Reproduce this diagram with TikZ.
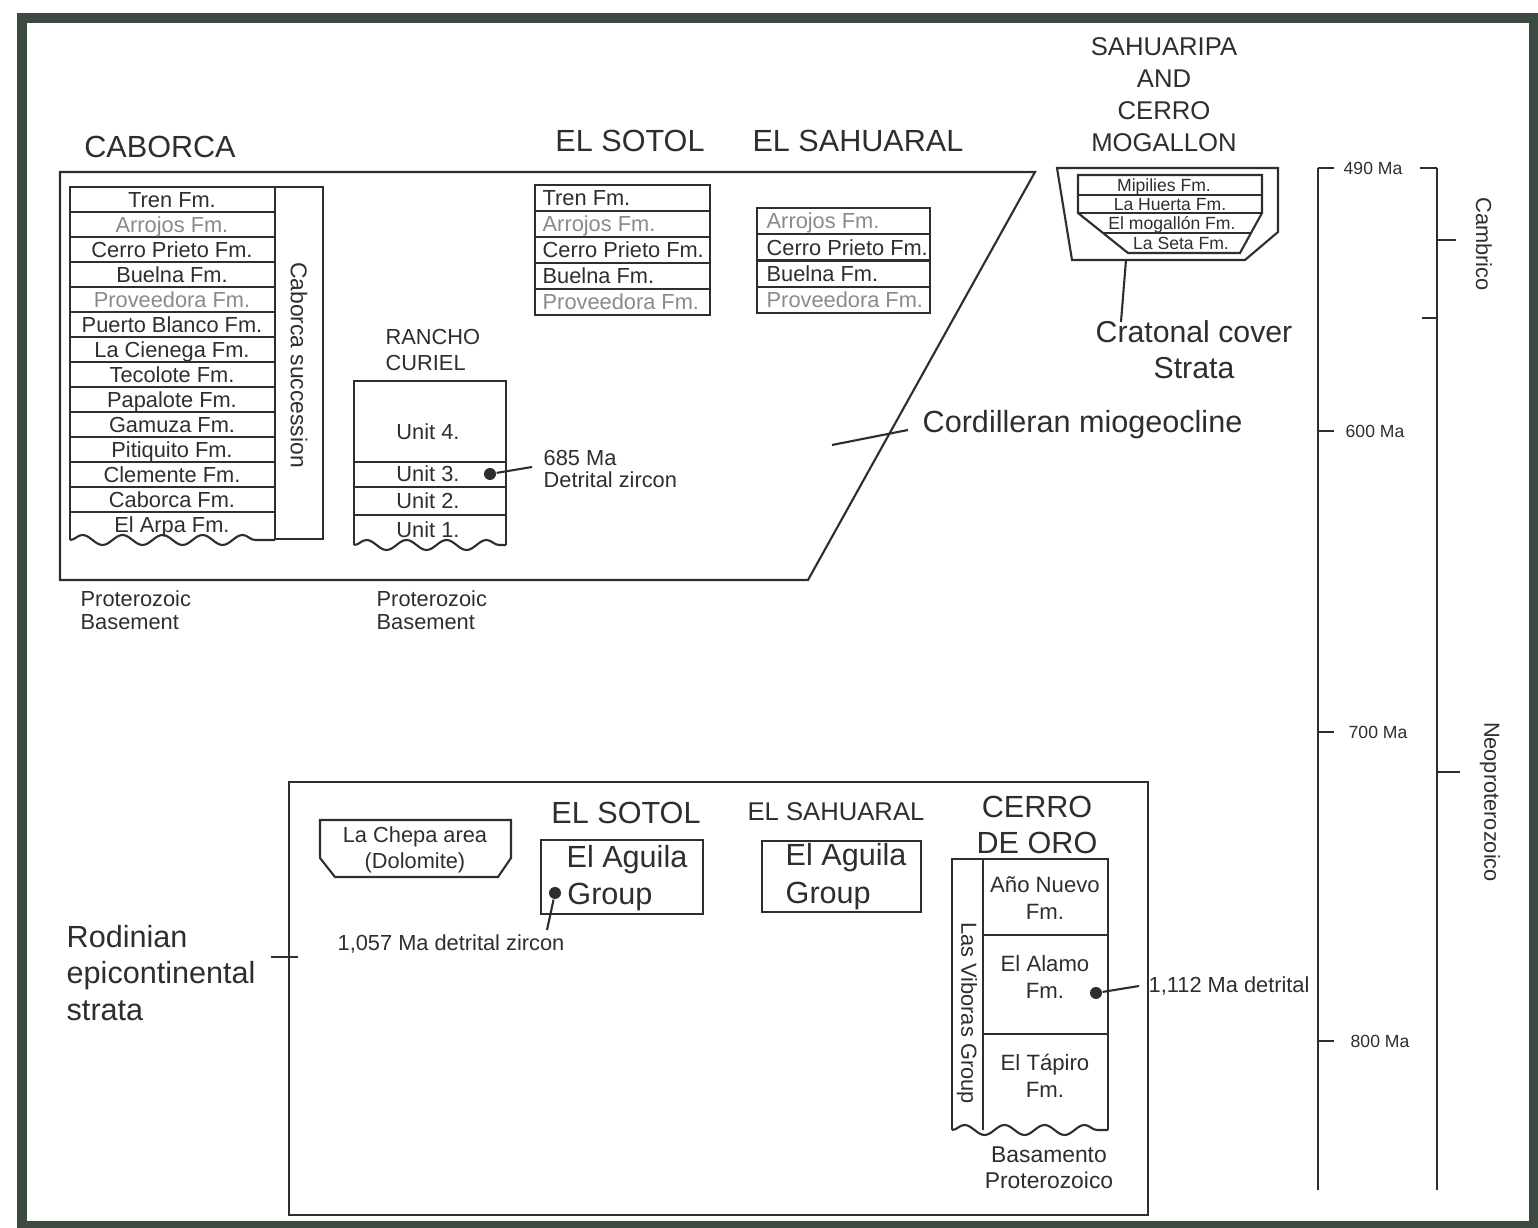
\documentclass[tikz,border=0pt]{standalone}
\usepackage{fontspec}
\setmainfont{Liberation Sans}
\usetikzlibrary{decorations.pathmorphing}
\definecolor{ink}{HTML}{2E2E2E}
\definecolor{lite}{HTML}{8A8A8A}
\definecolor{framecol}{HTML}{3C4A42}

\begin{document}
\begin{tikzpicture}[x=0.01cm,y=-0.01cm,
  strat/.style={draw=ink,line width = 0.6pt},
  wavy/.style={strat,decorate,decoration={snake,amplitude=0.05cm,segment length=0.4cm}},
  head/.style={font=\fontsize{8.7}{10.4}\selectfont,text=ink,inner sep=0pt},
  midtxt/.style={font=\fontsize{7.3}{9.1}\selectfont,text=ink,inner sep=0pt},
  fmtxt/.style={font=\fontsize{6.2}{7.2}\selectfont,text=ink,inner sep=0pt},
  fmrow/.style={fmtxt,text height=4.6pt,text depth=0.2pt},
  tinytxt/.style={font=\fontsize{5}{6}\selectfont,text=ink,inner sep=0pt,text height=3.8pt,text depth=0.2pt},
  zdot/.style={circle,fill=ink,inner sep=0pt,minimum size=0.12cm}]
\useasboundingbox (0,0) rectangle (1538,1228);
\fill[white] (0,0) rectangle (1538,1228);
\draw[framecol,line width = 2.6pt] (22,18) rectangle (1534,1226);

\node[head] (caborca) at (160,147) {CABORCA};
\node[head] (sotol) at (630,141) {EL SOTOL};
\node[head] (sahuaral) at (858,141) {EL SAHUARAL};
\node[midtxt,align=center] (sahuaripa) at (1164,95) {SAHUARIPA\\AND\\CERRO\\MOGALLON};

\draw[strat] (60,172) -- (1035,172) -- (808,580) -- (60,580) -- cycle;

\draw[strat] (70,540) -- (70,187) -- (323,187) -- (323,539) -- (275,539);
\draw[strat] (275,187) -- (275,539);
\draw[wavy] (70,540) -- (275,540);
\foreach \i in {1,...,13}
  \draw[strat] (70,{187+25*\i}) -- (275,{187+25*\i});
\foreach \fm/\col [count=\i] in {Tren Fm./ink,Arrojos Fm./lite,Cerro Prieto Fm./ink,Buelna Fm./ink,Proveedora Fm./lite,Puerto Blanco Fm./ink,La Cienega Fm./ink,Tecolote Fm./ink,Papalote Fm./ink,Gamuza Fm./ink,Pitiquito Fm./ink,Clemente Fm./ink,Caborca Fm./ink,El Arpa Fm./ink}
  \node[fmrow,text=\col] (cab\i) at (172,{187+25*(\i-0.5)}) {\fm};
\node[fmtxt,font=\fontsize{6.5}{7.5}\selectfont,rotate=-90] (cabsucc) at (299,365) {Caborca succession};
\node[fmtxt,align=left,anchor=west,font=\fontsize{6.2}{6.6}\selectfont] (cabbase) at (80,610) {Proterozoic\\Basement};

\node[fmtxt,align=left,anchor=west,font=\fontsize{6.2}{7.4}\selectfont] (rancho) at (385,350) {RANCHO\\CURIEL};
\draw[strat] (354,545) -- (354,381) -- (506,381) -- (506,545);
\draw[wavy] (354,545) -- (506,545);
\foreach \y in {462,487,515}
  \draw[strat] (354,\y) -- (506,\y);
\node[fmrow] (unit4) at (428,432) {Unit 4.};
\node[fmrow] (unit3) at (428,474) {Unit 3.};
\node[fmrow] (unit2) at (428,501) {Unit 2.};
\node[fmrow] (unit1) at (428,530) {Unit 1.};
\node[zdot] (zr685) at (490,474) {};
\coordinate (zr685end) at (532,467);
\draw[strat] (zr685) -- (zr685end);
\node[fmtxt,align=left,anchor=west,font=\fontsize{6.2}{6}\selectfont] (age685) at (543,469) {685 Ma\\Detrital zircon};
\node[fmtxt,align=left,anchor=west,font=\fontsize{6.2}{6.6}\selectfont] (rcbase) at (376,610) {Proterozoic\\Basement};

\draw[strat] (535,185) rectangle (710,315);
\foreach \i in {1,...,4}
  \draw[strat] (535,{185+26*\i}) -- (710,{185+26*\i});
\foreach \fm/\col [count=\i] in {Tren Fm./ink,Arrojos Fm./lite,Cerro Prieto Fm./ink,Buelna Fm./ink,Proveedora Fm./lite}
  \node[fmrow,text=\col,anchor=west] (sot\i) at (542,{185+26*(\i-0.5)}) {\fm};

\draw[strat] (757,208) rectangle (930,313);
\foreach \i in {1,...,3}
  \draw[strat] (757,{208+26.25*\i}) -- (930,{208+26.25*\i});
\foreach \fm/\col [count=\i] in {Arrojos Fm./lite,Cerro Prieto Fm./ink,Buelna Fm./ink,Proveedora Fm./lite}
  \node[fmrow,text=\col,anchor=west] (sah\i) at (766,{208+26.25*(\i-0.5)}) {\fm};

\draw[strat] (1057,168) -- (1278,168) -- (1278,232) -- (1245,260) -- (1072,260) -- cycle;
\draw[strat] (1078,175) -- (1262,175) -- (1262,213) -- (1240,253) -- (1128,253) -- (1078,213) -- cycle;
\draw[strat] (1078,195) -- (1262,195);
\draw[strat] (1078,213) -- (1262,213);
\draw[strat] (1103,233) -- (1251,233);
\node[tinytxt] (mipilies) at (1164,185) {Mipilies Fm.};
\node[tinytxt] (huerta) at (1170,204) {La Huerta Fm.};
\node[tinytxt] (mogallon) at (1172,223) {El mogallón Fm.};
\node[tinytxt] (seta) at (1181,243) {La Seta Fm.};
\coordinate (cratontop) at (1126,260);
\coordinate (cratonend) at (1121,322);
\draw[strat] (cratontop) -- (cratonend);
\node[head,align=center,font=\fontsize{8.6}{10.3}\selectfont] (craton) at (1194,350) {Cratonal cover\\Strata};

\node[head,anchor=west] (mio) at (922,425) {Cordilleran miogeocline};
\coordinate (miotip) at (832,445);
\coordinate (mioend) at (908,430);
\draw[strat] (miotip) -- (mioend);

\draw[strat] (1318,168) -- (1318,1190);
\draw[strat] (1437,168) -- (1437,1190);
\draw[strat] (1420,168) -- (1437,168);
\foreach \age/\y/\lx in {490/168/1343,600/431/1345,700/732/1348,800/1041/1350}{
  \draw[strat] (1318,\y) -- (1334,\y);
  \node[tinytxt,anchor=west] (ma\age) at (\lx,\y) {\age{} Ma};
}
\draw[strat] (1437,240) -- (1456,240);
\draw[strat] (1422,318) -- (1437,318);
\draw[strat] (1437,772) -- (1460,772);
\node[fmtxt,rotate=-90] (cambrico) at (1484,244) {Cambrico};
\node[fmtxt,rotate=-90] (neoprot) at (1490,802) {Neoproterozoico};

\draw[strat] (289,782) rectangle (1148,1215);
\node[head,align=left,anchor=west] (rodinia) at (66,973) {Rodinian\\epicontinental\\strata};
\coordinate (roda) at (271,957);
\coordinate (rodb) at (298,957);
\draw[strat] (roda) -- (rodb);

\draw[strat] (320,820) -- (511,820) -- (511,858) -- (498,877) -- (335,877) -- (320,858) -- cycle;
\node[fmtxt,align=center,font=\fontsize{6.2}{7.4}\selectfont] (chepa) at (415,850) {La Chepa area\\(Dolomite)};

\node[head] (sotolb) at (626,813) {EL SOTOL};
\draw[strat] (541,840) rectangle (703,914);
\node[head] (aguila1) at (627,860) {El Aguila};
\node[head] (group1) at (610,897) {Group};
\node[zdot] (zr1057) at (555,893) {};
\coordinate (zr1057end) at (547,930);
\draw[strat] (zr1057) -- (zr1057end);
\node[fmtxt] (age1057) at (451,944) {1,057 Ma detrital zircon};

\node[midtxt] (sahuaralb) at (836,812) {EL SAHUARAL};
\draw[strat] (762,841) rectangle (921,912);
\node[head,anchor=west] (aguila2) at (785,858) {El Aguila};
\node[head,anchor=west] (group2) at (785,896) {Group};

\node[head,align=center] (cerrooro) at (1037,825) {CERRO\\DE ORO};
\draw[strat] (952,1130) -- (952,859) -- (1108,859) -- (1108,1130);
\draw[strat] (983,859) -- (983,1130);
\draw[wavy] (952,1130) -- (1108,1130);
\foreach \y in {935,1034}
  \draw[strat] (983,\y) -- (1108,\y);
\node[fmtxt,rotate=-90] (viboras) at (967,1013) {Las Viboras Group};
\node[fmtxt,align=center,font=\fontsize{6.3}{7.7}\selectfont] (anonuevo) at (1045,898) {Año Nuevo\\Fm.};
\node[fmtxt,align=center,font=\fontsize{6.3}{7.7}\selectfont] (alamo) at (1045,977) {El Alamo\\Fm.};
\node[fmtxt,align=center,font=\fontsize{6.3}{7.7}\selectfont] (tapiro) at (1045,1076) {El Tápiro\\Fm.};
\node[zdot] (zr1112) at (1096,993) {};
\coordinate (zr1112end) at (1139,986);
\draw[strat] (zr1112) -- (zr1112end);
\node[fmtxt,anchor=west] (age1112) at (1148,986) {1,112 Ma detrital};
\node[fmtxt,align=center,font=\fontsize{6.5}{7.3}\selectfont] (basamento) at (1049,1168) {Basamento\\Proterozoico};
\end{tikzpicture}
\end{document}
